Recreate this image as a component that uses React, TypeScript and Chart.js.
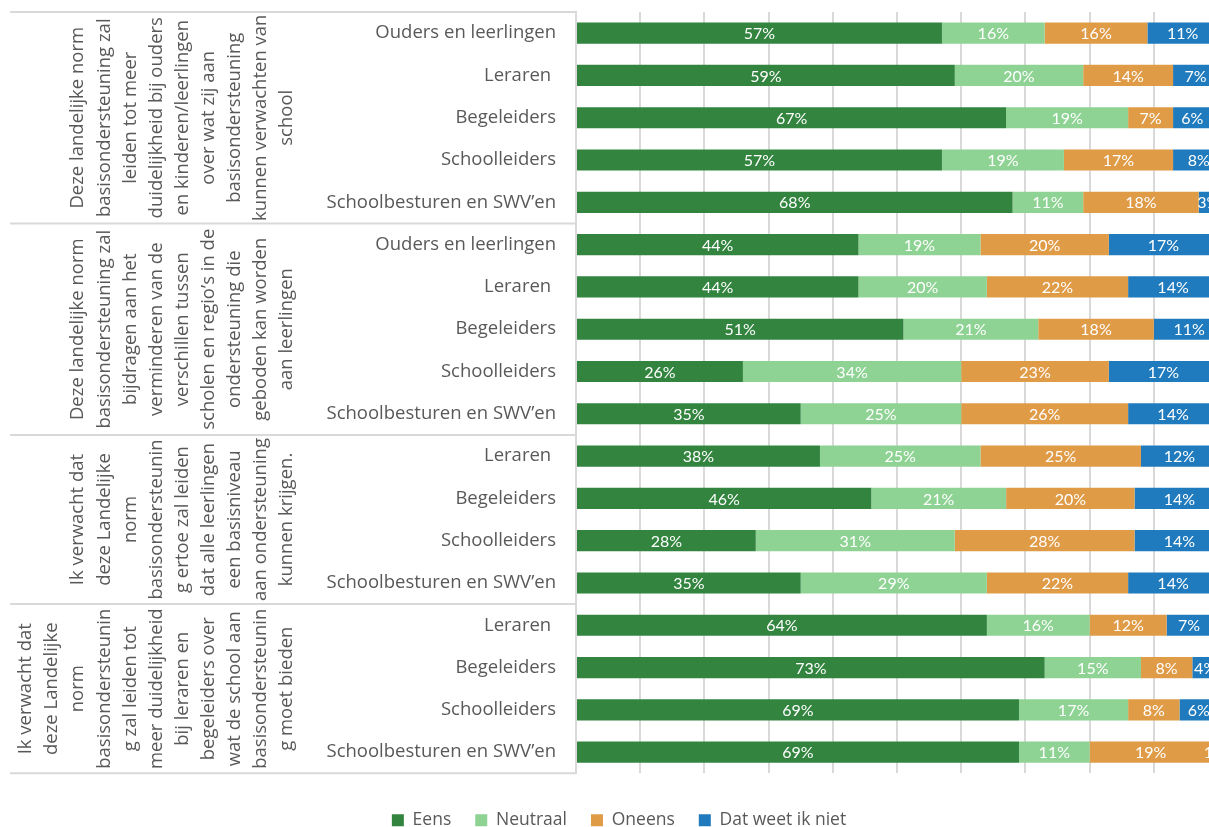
import { useEffect, useRef } from 'react';
import { Chart, registerables } from 'chart.js';

Chart.register(...registerables);

const categories = [
  'Ouders en leerlingen', 'Leraren ', 'Begeleiders', 'Schoolleiders', 'Schoolbesturen en SWV’en',
  'Ouders en leerlingen', 'Leraren ', 'Begeleiders', 'Schoolleiders', 'Schoolbesturen en SWV’en',
  'Leraren ', 'Begeleiders', 'Schoolleiders', 'Schoolbesturen en SWV’en',
  'Leraren ', 'Begeleiders', 'Schoolleiders', 'Schoolbesturen en SWV’en',
];

const groupSizes = [5, 5, 4, 4];

const groupLabels = [
  ['Deze landelijke norm', 'basisondersteuning zal', 'leiden tot meer', 'duidelijkheid bij ouders', 'en kinderen/leerlingen', 'over wat zij aan', 'basisondersteuning', 'kunnen verwachten van', 'school'],
  ['Deze landelijke norm', 'basisondersteuning zal', 'bijdragen aan het', 'verminderen van de', 'verschillen tussen', 'scholen en regio’s in de', 'ondersteuning die', 'geboden kan worden', 'aan leerlingen'],
  ['Ik verwacht dat', 'deze Landelijke', 'norm', 'basisondersteunin', 'g ertoe zal leiden', 'dat alle leerlingen', 'een basisniveau', 'aan ondersteuning', 'kunnen krijgen.'],
  ['Ik verwacht dat', 'deze Landelijke', 'norm', 'basisondersteunin', 'g zal leiden tot', 'meer duidelijkheid', 'bij leraren en', 'begeleiders over', 'wat de school aan', 'basisondersteunin', 'g moet bieden'],
];

const seriesNames = ['Eens', 'Neutraal', 'Oneens', 'Dat weet ik niet'];
const eens = [57, 59, 67, 57, 68, 44, 44, 51, 26, 35, 38, 46, 28, 35, 64, 73, 69, 69];
const neutraal = [16, 20, 19, 19, 11, 19, 20, 21, 34, 25, 25, 21, 31, 29, 16, 15, 17, 11];
const oneens = [16, 14, 7, 17, 18, 20, 22, 18, 23, 26, 25, 20, 28, 22, 12, 8, 8, 19];
const weetNiet = [11, 7, 6, 8, 3, 17, 14, 11, 17, 14, 12, 14, 14, 14, 7, 4, 6, 1];

const seriesColors = ['#32843f', '#8ed393', '#e09b47', '#1f7bbd'];

const GRID = '#d9d9d9';
const TEXT = '#595959';
const FONT = 'Open Sans';

const dataLabelPlugin = {
  id: 'dataLabels',
  afterDatasetsDraw(chart: any) {
    const ctx = chart.ctx;
    ctx.save();
    ctx.fillStyle = '#ffffff';
    ctx.font = '16px Lato';
    ctx.textAlign = 'center';
    ctx.textBaseline = 'middle';
    chart.data.datasets.forEach((ds: any, i: number) => {
      const meta = chart.getDatasetMeta(i);
      meta.data.forEach((bar: any, j: number) => {
        const p = bar.getProps(['x', 'base', 'y'], true);
        ctx.fillText(ds.data[j] + '%', (p.x + p.base) / 2, p.y + 1);
      });
    });
    ctx.restore();
  },
};

const groupPlugin = {
  id: 'groupLabels',
  afterDraw(chart: any) {
    const ctx = chart.ctx;
    const y = chart.scales.y;
    const area = chart.chartArea;
    ctx.save();
    ctx.strokeStyle = GRID;
    ctx.lineWidth = 2;
    let start = 0;
    const bounds: number[] = [area.top];
    groupSizes.forEach((n, gi) => {
      const end = start + n - 1;
      const bottom = gi === groupSizes.length - 1
        ? area.bottom
        : (y.getPixelForValue(end) + y.getPixelForValue(end + 1)) / 2;
      bounds.push(bottom);
      start += n;
    });
    bounds.forEach((b) => {
      ctx.beginPath();
      ctx.moveTo(10, b);
      ctx.lineTo(area.left, b);
      ctx.stroke();
    });
    ctx.fillStyle = TEXT;
    ctx.font = `18.5px "${FONT}"`;
    ctx.textAlign = 'center';
    ctx.textBaseline = 'middle';
    groupLabels.forEach((lines, gi) => {
      const cy = (bounds[gi] + bounds[gi + 1]) / 2;
      const n = lines.length;
      lines.forEach((line, li) => {
        const x = 287 - (n - 1 - li) * 26.1;
        ctx.save();
        ctx.translate(x, cy);
        ctx.rotate(-Math.PI / 2);
        ctx.fillText(line, 0, 0);
        ctx.restore();
      });
    });
    ctx.restore();
  },
};

const legendShift = {
  id: 'legendShift',
  afterLayout(chart: any) {
    if (chart.legend) {
      chart.legend.left += 10;
      chart.legend.right += 10;
    }
  },
};

export default function App() {
  const ref = useRef<HTMLCanvasElement>(null);
  useEffect(() => {
    if (!ref.current) return;
    const chart = new Chart(ref.current, {
      type: 'bar',
      data: {
        labels: categories,
        datasets: [eens, neutraal, oneens, weetNiet].map((d, i) => ({
          label: seriesNames[i],
          data: d,
          backgroundColor: seriesColors[i],
          borderWidth: 0,
          barPercentage: 0.5,
          categoryPercentage: 1,
        })),
      },
      options: {
        indexAxis: 'y',
        responsive: false,
        animation: false,
        layout: { padding: { top: 12, left: 0, right: 0, bottom: 0 } },
        scales: {
          x: {
            stacked: true,
            min: 0,
            max: 100,
            ticks: { display: false, stepSize: 10 },
            grid: { color: GRID, lineWidth: 2, drawTicks: false },
            border: { display: false },
          },
          y: {
            stacked: true,
            grid: { display: false, drawTicks: false },
            border: { display: true, color: GRID, width: 2 },
            ticks: { color: TEXT, font: { family: FONT, size: 18.5 }, padding: 20, autoSkip: false },
            afterFit: (scale: any) => {
              scale.width = 576;
              scale.paddingTop = 0;
              scale.paddingBottom = 0;
            },
          },
        },
        plugins: {
          legend: {
            position: 'bottom',
            title: { display: true, text: '', padding: { top: 13, bottom: 0 }, font: { size: 1 } },
            labels: {
              boxWidth: 12,
              boxHeight: 12,
              padding: 24,
              color: TEXT,
              font: { family: FONT, size: 17.5 },
            },
          },
          tooltip: { enabled: false },
        },
      },
      plugins: [dataLabelPlugin, groupPlugin, legendShift],
    });
    return () => chart.destroy();
  }, []);

  return (
    <div style={{ position: 'absolute', left: 0, top: 0, width: 1209, height: 827, overflow: 'hidden', background: '#fff' }}>
      <canvas ref={ref} width={1218} height={839} style={{ display: 'block', width: 1218, height: 839 }} />
    </div>
  );
}
